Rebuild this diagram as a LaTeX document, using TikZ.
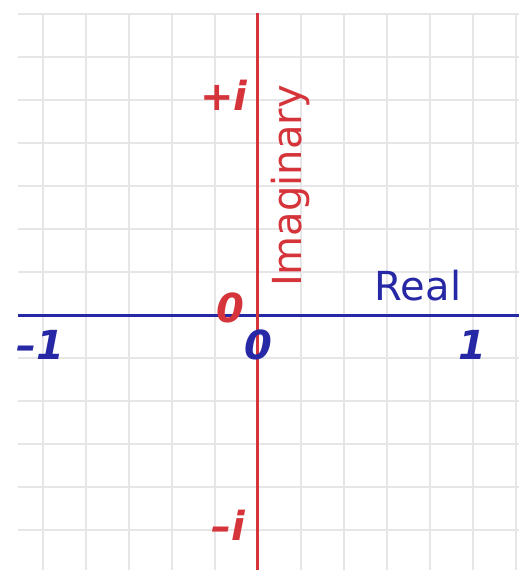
\documentclass[tikz,border=0pt]{standalone}
\usepackage{fontspec}
\setmainfont{DejaVu Sans}
\usetikzlibrary{positioning}
\definecolor{axisred}{RGB}{212,52,58}
\definecolor{axisblue}{RGB}{38,40,165}
\definecolor{gridgrey}{RGB}{230,230,232}

\begin{document}
\begin{tikzpicture}[
                x=0.5pt, y=-0.5pt,
                gridline/.style={gridgrey, line width=1.1pt},
                realaxis/.style={axisblue, line width=1.5pt},
                imagaxis/.style={axisred, line width=1.5pt},
                numlabel/.style={inner sep=0pt, font=\fontsize{20}{20}\selectfont\bfseries\itshape},
                axislabel/.style={inner sep=0pt, font=\fontsize{20}{20}\selectfont}
            ]
            \useasboundingbox (0,0) rectangle (519,570);
            \fill[white] (0,0) rectangle (519,570);
            % grid
            \foreach \gx in {43,86,...,516}
                \draw[gridline] (\gx,13) -- (\gx,570);
            \foreach \gy in {14,57,...,570}
                \draw[gridline] (18,\gy) -- (519,\gy);

            % axes
            \coordinate (rl) at (18,315);
            \coordinate (rr) at (519,315);
            \coordinate (it) at (258,13);
            \coordinate (ib) at (258,570);
            \draw[realaxis] (rl) -- (rr);
            \draw[imagaxis] (it) -- (ib);

            % labels
            \node[numlabel, axisred] (pi) at (224,95) {+i};
            \node[numlabel, axisred] (mi) at (228,525) {\textendash i};
            \node[numlabel, axisred] (o) at (230,308) {0};
            \node[numlabel, axisblue] (m1) at (40,345) {\textendash1};
            \node[numlabel, axisblue] (z) at (258,345) {0};
            \node[numlabel, axisblue] (p1) at (472,345) {1};
            \node[axislabel, axisred, rotate=90] (imag) at (290,186) {Imaginary};
            \node[axislabel, axisblue] (real) at (418,286) {Real};
            \end{tikzpicture}
\end{document}
